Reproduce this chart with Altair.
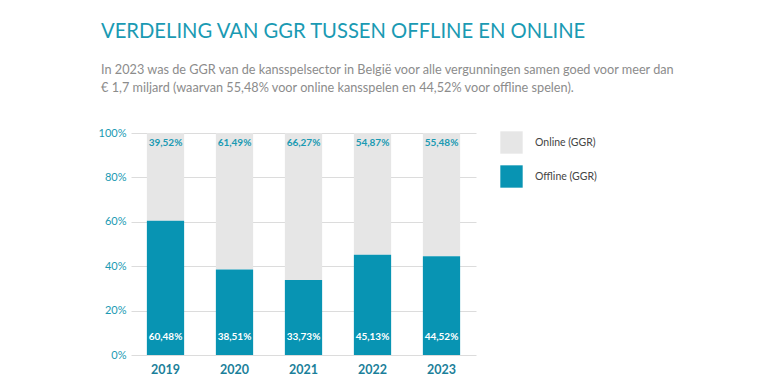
import altair as alt
import pandas as pd

years = ["2019", "2020", "2021", "2022", "2023"]
online = [39.52, 61.49, 66.27, 54.87, 55.48]
offline = [60.48, 38.51, 33.73, 45.13, 44.52]
series = ["Online (GGR)", "Offline (GGR)"]
colors = ["#e6e6e6", "#0894b3"]

rows = []
for i, y in enumerate(years):
    rows.append({"year": y, "type": series[0], "value": online[i], "ord": 1})
    rows.append({"year": y, "type": series[1], "value": offline[i], "ord": 0})
df = pd.DataFrame(rows)

FONT = "Lato"
TEAL = "#1a9ab3"

base = alt.Chart(df)

x = alt.X("year:N", title=None,
          scale=alt.Scale(paddingInner=0.46, paddingOuter=0.23),
          axis=alt.Axis(labelAngle=0, labelFontWeight="bold", labelFontSize=12.5,
                        labelColor="#1b7f9a", labelFont=FONT, domain=False, ticks=False,
                        labelPadding=8))

bars = base.mark_bar().encode(
    x=x,
    y=alt.Y("value:Q", stack="zero", title=None,
            scale=alt.Scale(domain=[0, 100], nice=False),
            axis=alt.Axis(values=[0, 20, 40, 60, 80, 100], labelExpr="datum.value + '%'",
                          labelColor=TEAL, labelFontSize=11, labelFont=FONT,
                          domain=False, ticks=False, gridColor="#dcdcdc",
                          labelPadding=5)),
    color=alt.Color("type:N", scale=alt.Scale(domain=series, range=colors),
                    legend=alt.Legend(title=None, orient="none", legendX=369, legendY=-2,
                                      symbolType="square", symbolSize=500,
                                      symbolStrokeWidth=0, rowPadding=11,
                                      labelFontSize=10.5, labelFont=FONT,
                                      labelColor="#444444", labelOffset=12)),
    order=alt.Order("ord:Q"),
)

labels = base.transform_calculate(
    lab="replace(format(datum.value, '.2f'), '.', ',') + '%'"
)

on_text = labels.transform_filter(alt.datum.ord == 1).mark_text(
    dy=10, fontSize=10, font=FONT, fontWeight="bold", color=TEAL
).encode(x=x, y=alt.Y(datum=100), text="lab:N")

off_text = labels.transform_filter(alt.datum.ord == 0).mark_text(
    dy=-18, fontSize=10, font=FONT, fontWeight="bold", color="white"
).encode(x=x, y=alt.Y(datum=0), text="lab:N")

chart = alt.layer(bars, on_text, off_text).properties(
    width=345, height=222,
    autosize=alt.AutoSizeParams(type="none"),
    padding={"left": 123, "top": 125, "right": 270, "bottom": 30},
    title=alt.TitleParams(
        "VERDELING VAN GGR TUSSEN OFFLINE EN ONLINE",
        subtitle=["In 2023 was de GGR van de kansspelsector in België voor alle vergunningen samen goed voor meer dan",
                  "€ 1,7 miljard (waarvan 55,48% voor online kansspelen en 44,52% voor offline spelen)."],
        anchor="start", frame="bounds", font=FONT, fontSize=20.2, fontWeight="normal",
        color=TEAL, subtitleFont=FONT, subtitleFontSize=12.7, subtitleColor="#8c8c8c",
        subtitlePadding=22, subtitleLineHeight=18, offset=32, dx=3,
    ),
).configure_view(stroke=None)

chart.save("out.html", embed_options={"renderer": "svg", "actions": False})
